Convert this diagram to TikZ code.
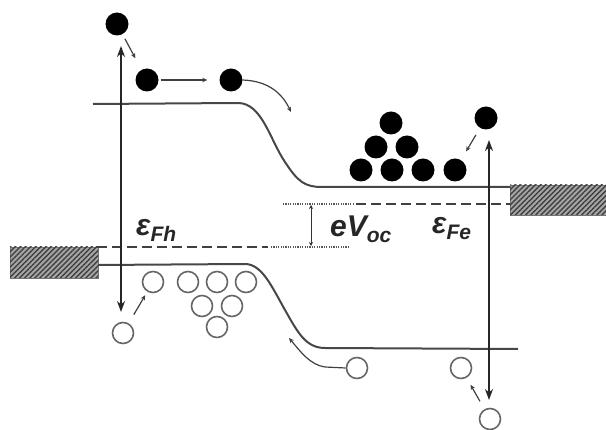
\documentclass[tikz,border=0pt]{standalone}
\usepackage{fontspec}
\setmainfont{Liberation Sans}
\usetikzlibrary{arrows.meta,patterns.meta}
\begin{document}
\begin{tikzpicture}[x=1pt,y=-1pt,
  band/.style={line width=2pt,draw=black!72},
  elec/.style={circle,fill=black,minimum size=23pt,inner sep=0pt},
  hole/.style={circle,draw=black!60,line width=1.6pt,minimum size=21pt,inner sep=0pt},
  hopp/.style={line width=1.2pt,draw=black!75,-{Stealth[length=5pt,width=4.5pt]}},
  bigarrow/.style={line width=2.6pt,draw=black!85,{Stealth[length=11pt,width=8pt]}-{Stealth[length=11pt,width=8pt]}},
  fermi/.style={line width=2pt,draw=black!75,dash pattern=on 10pt off 5pt},
  fermidot/.style={line width=2.2pt,draw=black!65,dash pattern=on 1.2pt off 1.2pt},
  contact/.style={draw=black!55,line width=0.6pt,fill=black!35,postaction={pattern={Lines[angle=45,distance=3.6pt,line width=1.4pt]},pattern color=black!75}},
  lab/.style={inner sep=0pt,anchor=base west,font=\bfseries\itshape\fontsize{30}{30}\selectfont,text=black!85}
]
\useasboundingbox (0,0) rectangle (606,430);

% contacts
\path[contact] (10,247) rectangle (98,278);
\path[contact] (510,185) rectangle (606,215);

% bands
\draw[band] (93,104) -- (238,103) .. controls (262,103) and (270,140) .. (285,162)
  .. controls (298,182) and (305,187) .. (322,187) -- (510,187);
\draw[band] (98,265) -- (245,264) .. controls (262,264) and (272,287) .. (285,310)
  .. controls (298,333) and (306,348) .. (325,348) -- (518,349);

% quasi Fermi levels
\draw[fermidot] (283,204) -- (353,204);
\draw[fermi] (356,204) -- (510,204);
\draw[fermi] (97,247) -- (268,247);
\draw[fermidot] (271,247) -- (350,247);

% eVoc arrow
\coordinate (vt) at (311,205);
\coordinate (vb) at (311,246);
\draw[line width=1pt,black!80,{Stealth[length=4pt,width=4pt]}-{Stealth[length=4pt,width=4pt]}] (vt) -- (vb);

% electrons
\node[elec] (e1) at (117,24) {};
\node[elec] (e2) at (147,80) {};
\node[elec] (e3) at (231,80) {};
\node[elec] (p1) at (361,170) {};
\node[elec] (p2) at (392,170) {};
\node[elec] (p3) at (423,170) {};
\node[elec] (e8) at (455,170) {};
\node[elec] (p5) at (376,147) {};
\node[elec] (p6) at (407,147) {};
\node[elec] (p7) at (391,123) {};
\node[elec] (e9) at (486,118) {};

% holes
\node[hole] (h1) at (123,333) {};
\node[hole] (h2) at (153,282) {};
\node[hole] (q1) at (188,282) {};
\node[hole] (q2) at (217,282) {};
\node[hole] (q3) at (246,282) {};
\node[hole] (q4) at (202,306) {};
\node[hole] (q5) at (232,306) {};
\node[hole] (q6) at (217,327) {};
\node[hole] (h3) at (357,368) {};
\node[hole] (h4) at (461,368) {};
\node[hole] (h5) at (490,419) {};

% hops
\draw[hopp,shorten <=5pt,shorten >=13pt] (e1) -- (e2);
\draw[hopp,shorten <=2pt,shorten >=12pt] (e2) -- (e3);
\coordinate (c1) at (291,112);
\draw[hopp] (e3.east) .. controls (270,81) and (283,95) .. (c1);
\draw[hopp,shorten <=8pt,shorten >=10pt] (e9) -- (e8);
\draw[hopp,shorten <=10pt,shorten >=4pt] (h1) -- (h2);
\draw[hopp,shorten <=9pt,shorten >=8pt] (h5) -- (h4);
\coordinate (c2) at (289,338);
\draw[hopp] (h3.west) -- (325,367) .. controls (310,365) and (300,351) .. (c2);

% photo generation arrows
\coordinate (Lt) at (121,46);
\coordinate (Lb) at (121,312);
\draw[bigarrow] (Lt) -- (Lb);
\coordinate (Rt) at (489,140);
\coordinate (Rb) at (489,400);
\draw[bigarrow] (Rt) -- (Rb);

% labels
\node[lab] (lFh) at (136,236) {ε\raisebox{-6pt}{\fontsize{21}{21}\selectfont Fh}};
\node[lab] (lV) at (330,237) {eV\raisebox{-6pt}{\fontsize{21}{21}\selectfont oc}};
\node[lab] (lFe) at (432,234) {ε\raisebox{-6pt}{\fontsize{21}{21}\selectfont Fe}};
\end{tikzpicture}
\end{document}
